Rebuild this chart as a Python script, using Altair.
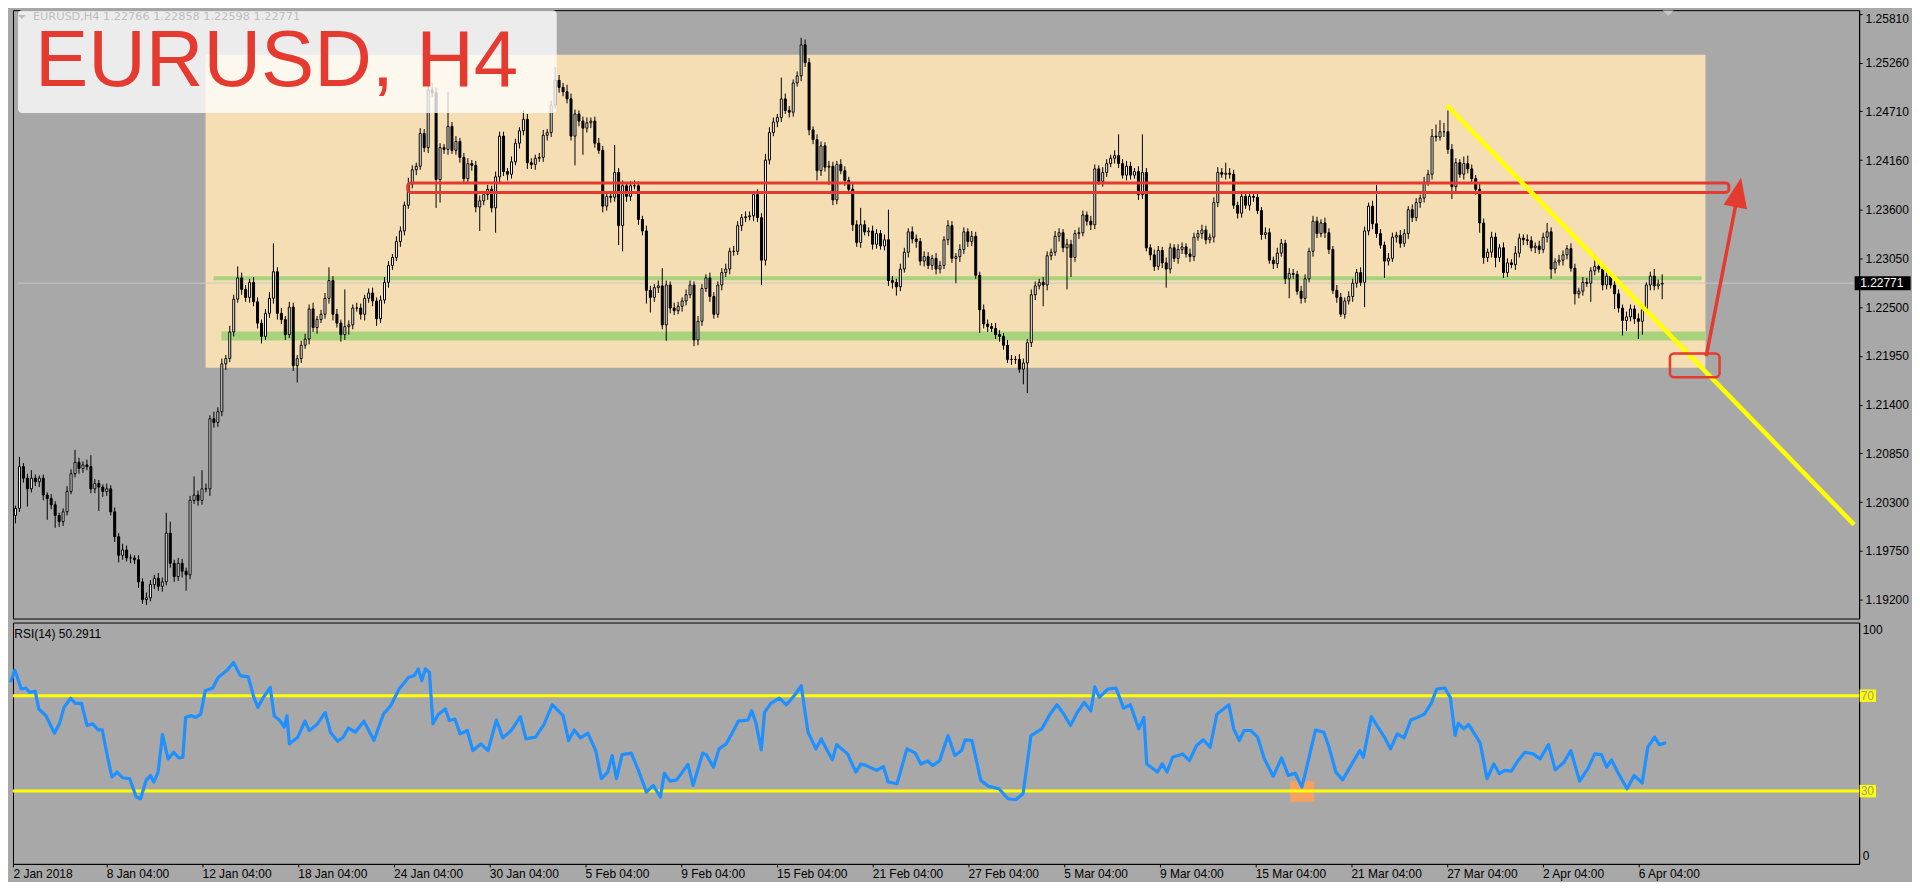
import altair as alt
import pandas as pd

# ---------------- data ----------------
# closes in 1/10000 above 1.0000 (2023 -> 1.2023); open of a bar = previous close
FIRST_OPEN = 2015
CLOSE_PIPS = [int(v) for v in """
2023 2070 2057 2045 2057 2053 2057 2038 2034 2027 2015 2008 2019 2042 2062 2075 2068 2072 2070 2045
2051 2047 2042 2045 2019 1991 1970 1976 1967 1967 1965 1940 1920 1922 1937 1944 1935 1940 1995 1961
1946 1961 1952 1948 2032 2038 2032 2045 2045 2124 2120 2132 2186 2192 2222 2259 2283 2270 2261 2278
2256 2232 2217 2243 2260 2290 2243 2236 2219 2250 2184 2192 2207 2214 2248 2227 2236 2242 2260 2280
2242 2232 2219 2228 2230 2249 2249 2242 2260 2266 2257 2237 2258 2278 2297 2306 2324 2336 2365 2389
2405 2409 2446 2430 2495 2492 2394 2430 2428 2454 2427 2437 2419 2395 2412 2410 2363 2370 2377 2383
2362 2397 2443 2403 2400 2414 2435 2449 2462 2413 2411 2418 2419 2444 2447 2478 2506 2498 2493 2485
2443 2468 2460 2452 2458 2460 2435 2427 2364 2375 2374 2402 2342 2387 2375 2387 2387 2349 2336 2269
2261 2272 2274 2230 2275 2249 2246 2251 2257 2264 2275 2213 2234 2271 2283 2262 2242 2275 2289 2293
2313 2313 2342 2351 2352 2353 2377 2351 2303 2416 2447 2459 2464 2485 2472 2470 2503 2511 2546 2526
2450 2439 2404 2432 2408 2409 2371 2411 2404 2393 2383 2343 2323 2343 2335 2336 2321 2333 2319 2326
2280 2278 2273 2293 2312 2335 2327 2324 2302 2307 2297 2305 2293 2297 2326 2342 2305 2307 2315 2335
2324 2330 2286 2247 2231 2228 2226 2219 2217 2207 2191 2191 2191 2180 2187 2210 2264 2274 2278 2275
2308 2312 2330 2334 2317 2321 2306 2333 2334 2354 2347 2343 2406 2392 2402 2412 2418 2421 2412 2399
2409 2399 2403 2377 2402 2317 2309 2296 2314 2300 2293 2317 2305 2315 2318 2310 2307 2329 2333 2337
2326 2329 2368 2402 2400 2401 2400 2365 2356 2375 2365 2375 2374 2359 2332 2334 2303 2299 2311 2322
2282 2288 2287 2268 2260 2282 2313 2347 2333 2345 2334 2315 2269 2261 2242 2257 2262 2277 2289 2278
2336 2364 2344 2333 2320 2302 2305 2329 2331 2322 2333 2360 2351 2368 2373 2391 2400 2443 2442 2448
2448 2428 2386 2413 2400 2412 2406 2395 2383 2345 2306 2312 2329 2306 2317 2289 2300 2298 2311 2328
2326 2325 2317 2319 2315 2329 2335 2293 2301 2303 2309 2316 2294 2265 2268 2278 2277 2291 2296 2293
2275 2285 2275 2265 2249 2235 2239 2248 2237 2234 2247 2275 2285 2274 2276 2277
""".split()]

# upper / lower shadow lengths in pips
UPPER_WICK = [int(v) for v in """
3 11 4 5 9 4 3 4 3 5 4 3 4 6 5 14 5 4 6 13
5 4 3 6 4 5 4 7 5 4 3 5 4 6 5 4 6 5 23 13
4 6 5 4 5 21 5 21 6 4 8 5 6 4 7 5 13 6 5 4
6 5 4 5 7 32 5 6 4 6 5 4 5 6 5 7 4 5 6 15
5 6 4 42 5 4 6 5 4 5 6 4 5 6 5 4 6 5 4 7
5 4 6 5 5 8 6 5 4 39 5 6 4 5 6 4 5 6 4 5
4 6 5 5 4 6 5 4 10 6 5 4 5 6 4 5 15 6 5 8
6 5 4 5 6 4 5 6 5 4 6 31 5 6 4 5 6 5 4 6
5 4 6 20 5 4 6 5 4 6 5 4 6 5 4 6 5 4 5 6
4 6 5 4 6 5 4 6 5 7 6 5 4 24 6 5 4 5 8 6
5 4 6 5 4 6 5 4 6 5 4 6 5 19 5 4 6 5 4 6
34 5 4 6 5 4 6 5 4 6 5 4 6 5 4 6 5 4 6 5
4 6 5 4 6 5 4 6 5 4 6 5 4 6 5 4 6 5 4 6
5 4 6 5 4 6 5 4 6 5 4 6 5 4 6 5 4 6 24 5
6 5 4 6 43 5 4 6 5 4 6 5 4 6 5 4 6 5 4 6
5 4 6 6 5 12 6 5 4 6 5 4 6 5 4 6 5 4 6 5
4 6 5 4 6 5 4 6 5 4 6 5 4 6 5 4 6 5 4 6
5 4 6 44 5 4 6 5 4 6 5 4 6 5 4 6 5 8 13 13
10 24 6 5 4 8 9 5 4 6 5 4 6 5 4 6 5 4 8 5
4 6 5 4 6 5 10 5 4 6 5 4 6 5 4 6 5 4 13 5
6 5 4 6 5 4 6 5 4 6 5 3 5 8 5 10
""".split()]

LOWER_WICK = [int(v) for v in """
9 4 5 20 4 5 6 6 24 5 14 6 5 4 3 4 6 5 4 5
5 27 6 5 4 6 8 5 4 6 5 7 5 6 4 5 5 6 4 5
6 5 7 18 5 4 6 5 4 8 6 5 5 7 4 5 4 6 5 6
5 6 8 4 5 6 7 5 6 4 6 19 5 4 6 5 7 4 5 6
7 5 8 6 9 5 4 6 7 5 6 8 5 4 6 5 4 6 5 4
5 6 4 5 6 5 32 26 5 6 4 5 6 5 4 6 6 27 5 6
5 28 6 5 7 5 4 6 5 7 5 6 4 5 6 5 4 6 5 5
5 33 6 30 5 6 5 4 7 5 6 5 22 29 6 5 4 6 5 15
17 5 6 5 18 6 5 4 6 5 4 7 6 5 4 6 5 4 6 5
6 5 4 6 5 4 6 5 28 6 5 4 6 5 4 6 5 4 6 5
6 5 11 6 5 20 6 5 4 6 5 7 5 6 4 5 6 5 4 5
6 7 10 5 4 6 5 7 5 6 4 5 6 5 4 6 5 28 6 5
6 5 4 26 5 6 4 5 6 5 4 6 5 4 17 34 5 6 4 24
6 5 4 6 5 47 22 5 6 4 5 6 5 4 6 5 4 6 5 4
6 5 4 6 5 4 6 5 4 6 21 5 4 6 5 4 6 5 4 6
5 4 6 5 4 6 5 4 6 5 4 6 5 4 6 5 4 6 5 4
6 22 5 4 6 5 4 6 5 4 6 5 4 6 3 5 4 6 5 4
28 5 6 5 4 19 5 4 6 5 4 6 5 4 6 5 4 6 5 4
6 5 14 5 4 6 5 4 6 11 7 5 6 11 5 6 5 4 6 5
6 5 4 6 5 4 6 11 5 4 6 5 4 12 5 5 4 21 5 4
6 5 4 17 5 17 12 5 6 20 15 4 6 5 4 17
""".split()]

# RSI(14) line, read as (bar, value) points
RSI_BAR = [0, 1.1, 2.7, 3.8, 4.8, 6.2, 7.1, 8.9, 11, 12.3, 13.4, 15.1, 16.2, 17.8, 19.2, 20.6, 22, 23, 24, 25.4,
           26.7, 28.1, 29.9, 31.5, 32.6, 34, 35.1, 35.9, 37, 38.1, 39.5, 40.9, 42.2, 43.2, 43.9, 45.3, 46.4, 47.7, 48.8, 50.7,
           52.1, 54.2, 55.9, 57.6, 59.6, 61, 62, 63.4, 65.1, 66.1, 67.5, 68.6, 69.3, 69.9, 72, 73.8, 74.9, 76.8, 78.9, 80.2,
           82, 83.4, 84.7, 86.4, 88.6, 91.1, 93.5, 95.3, 97.4, 99.8, 101.2, 102.2, 103.1, 104, 105, 105.9, 107.2, 109, 110, 111.4,
           112.7, 114.5, 115.9, 117.9, 119.7, 121.8, 123.4, 125.5, 127.8, 129.2, 131.6, 133.7, 135.8, 138.5, 139.9, 141.3, 142.9, 144.7, 146.7, 148.1,
           149.7, 150.8, 151.9, 153.3, 155.6, 157.4, 159.4, 161.1, 162.9, 163.9, 165.3, 167, 169.8, 171.1, 173.5, 174.4, 176.2, 177.6, 179.4, 180.7,
           182.4, 184.9, 185.8, 186.8, 188.2, 189, 190.6, 192.7, 194.5, 196.8, 198.2, 199.9, 201.9, 203.2, 204.3, 206, 207.1, 209.8, 211.9, 213.2,
           214.5, 217.1, 218.8, 220, 222.2, 224.7, 226.8, 228.2, 229.9, 231.2, 232.9, 235, 236.7, 238.4, 239.3, 241, 243.2, 245.2, 247.8, 250,
           252, 253.8, 255.8, 258.5, 260.6, 262.3, 264, 265.7, 267.4, 269.1, 270.8, 271.8, 272.9, 275.1, 277.1, 279, 280.7, 282.8, 284.1, 284.8,
           287.5, 288.7, 289.9, 291.3, 293.8, 295.5, 297.3, 299, 300.7, 302.4, 304.1, 305.4, 306.6, 308, 309.2, 310.9, 312.6, 314.3, 316.5, 318.6,
           320.3, 322, 323.7, 325.7, 327.1, 329.2, 330.5, 332.2, 333.9, 336, 338.2, 339.1, 341.1, 342.8, 344.5, 345.9, 347.6, 349.3, 351, 352.7,
           354.4, 356.1, 357.5, 359.5, 360.9, 362.1, 362.9, 364.3, 365.5, 366.7, 368.4, 370.1, 371.8, 373.2, 374.5, 376.2, 377.9, 379.6, 381.7, 383.4,
           385.5, 387.2, 389.4, 391.1, 393.3, 395.4, 397.1, 398.8, 400.1, 401.3, 403, 405.2, 407, 409, 410.4, 412.1, 413.3, 415]
RSI_VALUE = [75.6, 80.7, 72.8, 73.2, 71.4, 71.8, 64.4, 61.6, 54.3, 58.4, 65.1, 68.9, 66.8, 66.8, 57.5, 58.2, 55.7, 55.7, 47.0, 35.9,
             38.0, 35.6, 35.2, 27.5, 26.8, 34.5, 36.6, 33.8, 38.0, 53.7, 43.5, 46.3, 43.9, 44.2, 60.9, 61.6, 60.9, 62.3, 72.1, 73.2,
             77.7, 80.5, 83.9, 78.4, 77.9, 69.3, 65.1, 69.3, 73.5, 61.6, 59.6, 56.8, 61.6, 49.8, 52.6, 59.3, 55.4, 57.9, 63.0, 54.7,
             50.9, 52.6, 56.5, 54.7, 59.3, 51.2, 62.3, 65.8, 72.8, 77.7, 78.4, 81.2, 76.3, 81.2, 79.8, 58.2, 62.1, 64.4, 59.6, 60.2,
             54.0, 55.4, 47.0, 49.8, 47.0, 59.8, 52.3, 55.4, 61.2, 51.9, 52.6, 57.9, 66.2, 61.6, 51.2, 55.6, 52.3, 54.3, 47.0, 35.2,
             38.0, 44.9, 35.2, 45.3, 45.9, 38.7, 29.6, 32.4, 27.5, 37.5, 34.2, 34.7, 41.2, 32.4, 45.9, 45.3, 40.0, 47.7, 49.8, 53.7,
             59.3, 59.8, 63.7, 58.9, 47.3, 63.0, 66.8, 69.0, 66.2, 70.7, 74.2, 54.7, 47.7, 51.9, 48.4, 43.1, 49.5, 45.6, 38.0, 41.4,
             40.7, 38.7, 40.3, 33.8, 33.1, 47.7, 45.9, 41.4, 42.6, 40.7, 42.8, 53.3, 44.9, 47.0, 51.5, 51.2, 34.5, 32.0, 31.0, 26.8,
             26.4, 28.9, 53.3, 56.1, 62.3, 66.2, 62.3, 57.5, 63.0, 67.2, 63.7, 73.7, 69.3, 72.8, 73.2, 64.8, 66.2, 56.1, 60.9, 41.4,
             38.0, 41.4, 38.0, 44.2, 45.6, 42.8, 49.1, 51.5, 48.4, 62.3, 64.4, 66.2, 56.1, 51.2, 55.4, 55.4, 52.6, 43.5, 36.2, 43.9,
             36.6, 37.5, 31.7, 45.6, 55.6, 54.7, 48.4, 38.0, 34.7, 40.7, 47.0, 44.2, 61.2, 56.7, 52.3, 47.7, 54.0, 52.3, 59.8, 60.9,
             62.3, 66.8, 72.8, 73.2, 69.3, 53.3, 58.4, 56.1, 57.9, 54.7, 50.1, 35.2, 41.4, 37.3, 38.7, 38.4, 42.8, 46.3, 45.6, 43.5,
             49.5, 38.9, 42.1, 47.0, 34.2, 39.4, 45.6, 45.3, 40.0, 43.1, 37.5, 31.0, 36.6, 33.4, 48.4, 52.6, 49.5, 50.3]

PRICE_TICKS = [1.25810, 1.25260, 1.24710, 1.24160, 1.23600, 1.23050, 1.22500,
               1.21950, 1.21400, 1.20850, 1.20300, 1.19750, 1.19200]
TIME_LABELS = ["2 Jan 2018", "8 Jan 04:00", "12 Jan 04:00", "18 Jan 04:00", "24 Jan 04:00",
               "30 Jan 04:00", "5 Feb 04:00", "9 Feb 04:00", "15 Feb 04:00", "21 Feb 04:00",
               "27 Feb 04:00", "5 Mar 04:00", "9 Mar 04:00", "15 Mar 04:00", "21 Mar 04:00",
               "27 Mar 04:00", "2 Apr 04:00", "6 Apr 04:00"]
BARS_PER_LABEL = 24
RSI_LEVELS = [70, 30]
RSI_TICKS = [0, 100]
LAST_PRICE = 1.22771
HEADER_TEXT = "EURUSD,H4  1.22766 1.22858 1.22598 1.22771"
TITLE_TEXT = "EURUSD, H4"
RSI_TEXT = "RSI(14) 50.2911"

# drawn objects, in (bar, price) / (bar, rsi) coordinates
ZONE = dict(x1=47.9, x2=425.9, y1=1.21815, y2=1.25349)
GREEN_THIN = dict(x1=49.9, x2=424.9, y=1.22827)
GREEN_THICK = dict(x1=51.9, x2=425.9, y=1.22175)
RED_BOX = dict(x1=98.9, x2=431.8, y1=1.23795, y2=1.23901)
TREND = dict(x1=360.7, x2=463.375, y1=1.24779, y2=1.20046)
SMALL_BOX = dict(x1=416.95, x2=429.45, y1=1.21710, y2=1.21977)
ARROW = dict(x1=426.1, y1=1.21946, x2=434.15, y2=1.23795)
ORANGE = dict(x1=320.8, x2=326.8, y1=25.5, y2=34.2)

X_DOMAIN = [0.625, 463.375]
Y_DOMAIN = [1.189862, 1.258516]
RSI_DOMAIN = [-0.5, 100.65]

RED = "#e53a30"
FONT = "Liberation Sans"

# ---------------- frames ----------------
opens = [FIRST_OPEN] + CLOSE_PIPS[:-1]
rows = []
for i, (o, c, uw, lw) in enumerate(zip(opens, CLOSE_PIPS, UPPER_WICK, LOWER_WICK)):
    rows.append(dict(i=i, o=1 + o / 1e4, c=1 + c / 1e4,
                     h=1 + (max(o, c) + uw) / 1e4, l=1 + (min(o, c) - lw) / 1e4,
                     bull=bool(c >= o)))
candles = pd.DataFrame(rows)
rsi_df = pd.DataFrame({"bar": RSI_BAR, "rsi": RSI_VALUE})

W, H_MAIN, H_RSI = 1851, 610, 242
xs = alt.Scale(domain=X_DOMAIN, nice=False, zero=False)
ys = alt.Scale(domain=Y_DOMAIN, nice=False, zero=False)
rs = alt.Scale(domain=RSI_DOMAIN, nice=False, zero=False)

price_axis = alt.Axis(orient="right", values=PRICE_TICKS, format=".5f", grid=False, title=None,
                      tickSize=3, tickColor="black", domainColor="black", labelColor="black",
                      labelFont=FONT, labelFontSize=12, labelPadding=3, labelOverlap=False,
                      labelFlush=False,
                      labelBaseline=alt.condition("datum.value > 1.258", alt.value("top"), alt.value("middle")))


def one(d):
    return pd.DataFrame([d])


def X(f):
    return alt.X(f, type="quantitative", scale=xs, axis=None)


def Y(f):
    return alt.Y(f, type="quantitative", scale=ys, axis=price_axis)


zone = alt.Chart(one(ZONE)).mark_rect(color="#f5deb3").encode(
    x=X("x1"), x2="x2", y=Y("y1"), y2="y2")
g_thin = alt.Chart(one(GREEN_THIN)).mark_rule(color="#a8d27c", strokeWidth=4).encode(
    x=X("x1"), x2="x2", y=Y("y"))
g_thick = alt.Chart(one(GREEN_THICK)).mark_rule(color="#a8d27c", strokeWidth=9).encode(
    x=X("x1"), x2="x2", y=Y("y"))
last_line = alt.Chart(one(dict(x1=X_DOMAIN[0], x2=X_DOMAIN[1], y=LAST_PRICE))).mark_rule(
    color="#c8c8c8", strokeWidth=1).encode(x=X("x1"), x2="x2", y=Y("y"))
wicks = alt.Chart(candles).mark_rule(color="black", strokeWidth=1).encode(
    x=X("i"), y=Y("l"), y2="h")
bodies = alt.Chart(candles).mark_bar(size=2, stroke="black", strokeWidth=1).encode(
    x=X("i"), y=Y("o"), y2="c",
    color=alt.condition("datum.bull", alt.value("white"), alt.value("black")))
red_box = alt.Chart(one(RED_BOX)).mark_rect(fillOpacity=0, stroke=RED, strokeWidth=3, cornerRadius=3).encode(
    x=X("x1"), x2="x2", y=Y("y1"), y2="y2")
trend = alt.Chart(one(TREND)).mark_rule(color="#ffff00", strokeWidth=4.5).encode(
    x=X("x1"), x2="x2", y=Y("y1"), y2="y2")
small_box = alt.Chart(one(SMALL_BOX)).mark_rect(fillOpacity=0, stroke=RED, strokeWidth=2.5, cornerRadius=4).encode(
    x=X("x1"), x2="x2", y=Y("y1"), y2="y2")
shaft = alt.Chart(one(ARROW)).mark_rule(color=RED, strokeWidth=3.5).encode(
    x=X("x1"), x2="x2", y=Y("y1"), y2="y2")
head = alt.Chart(one(ARROW)).mark_point(shape="M0,-1L0.8,1L-0.8,1Z", filled=True, size=900,
                                        angle=11, color=RED, opacity=1).encode(x=X("x2"), y=Y("y2"))
title_box = alt.Chart(one(dict(x1=X_DOMAIN[0], x2=136.4, y1=1.24692, y2=Y_DOMAIN[1]))).mark_rect(
    color="white", opacity=0.78, cornerRadius=4).encode(x=X("x1"), x2="x2", y=Y("y1"), y2="y2")
title = alt.Chart(one(dict(x=4.9, y=1.24993, t=TITLE_TEXT))).mark_text(
    align="left", baseline="alphabetic", font=FONT, fontSize=80, color=RED).encode(
    x=X("x"), y=Y("y"), text="t:N")
header = alt.Chart(one(dict(x=4.4, y=1.25773, t=HEADER_TEXT))).mark_text(
    align="left", baseline="middle", font="DejaVu Sans", fontSize=11.3, color="#bdbdbd").encode(
    x=X("x"), y=Y("y"), text="t:N")
header_tri = alt.Chart(one(dict(x=1.6, y=1.25773))).mark_point(
    shape="M-1,-0.5L1,-0.5L0,0.5Z", filled=True, size=64, color="#bdbdbd", opacity=1).encode(
    x=X("x"), y=Y("y"))
shift_tri = alt.Chart(one(dict(x=416.5, y=1.25818))).mark_point(
    shape="M-1,-0.5L1,-0.5L0,0.5Z", filled=True, size=121, color="#c8c8c8", opacity=1).encode(
    x=X("x"), y=Y("y"))
price_box = alt.Chart(one(dict(x1=463.5, x2=477.6, y1=LAST_PRICE - 0.00079, y2=LAST_PRICE + 0.00079))).mark_rect(
    color="black").encode(x=X("x1"), x2="x2", y=Y("y1"), y2="y2")
price_txt = alt.Chart(one(dict(x=464.9, y=LAST_PRICE, t=f"{LAST_PRICE:.5f}"))).mark_text(
    align="left", baseline="middle", font=FONT, fontSize=12, color="white").encode(
    x=X("x"), y=Y("y"), text="t:N")

main = alt.layer(zone, g_thin, g_thick, last_line, wicks, bodies, red_box, trend, small_box,
                 shaft, head, title_box, title, header_tri, header, shift_tri, price_box, price_txt
                 ).properties(width=W, height=H_MAIN)

# ---------------- RSI panel ----------------
label_js = "[" + ",".join(f"'{t}'" for t in TIME_LABELS) + f"][round(datum.value/{BARS_PER_LABEL})]"
tick_bars = [max(k * BARS_PER_LABEL, X_DOMAIN[0]) for k in range(len(TIME_LABELS))]
time_axis = alt.Axis(values=tick_bars, labelExpr=label_js,
                     labelAlign="left", labelFlush=False, labelOverlap=False, grid=False, title=None,
                     tickSize=3, tickColor="black", domainColor="black", labelColor="black",
                     labelFont=FONT, labelFontSize=12, labelPadding=2)
rsi_axis = alt.Axis(orient="right", values=RSI_TICKS, grid=False, title=None, ticks=False,
                    labelFlush=False, domainColor="black", labelColor="black",
                    labelFont=FONT, labelFontSize=12, labelPadding=3,
                    labelBaseline=alt.condition("datum.value > 50", alt.value("top"), alt.value("bottom")))


def RX(f):
    return alt.X(f, type="quantitative", scale=xs, axis=time_axis)


def RY(f):
    return alt.Y(f, type="quantitative", scale=rs, axis=rsi_axis)


orange = alt.Chart(one(ORANGE)).mark_rect(color="#f4a261").encode(
    x=RX("x1"), x2="x2", y=RY("y1"), y2="y2")
lv_df = pd.DataFrame({"lv": RSI_LEVELS, "x1": X_DOMAIN[0], "x2": X_DOMAIN[1],
                      "b1": 463.5, "b2": 467.6, "lt": [str(v) for v in RSI_LEVELS]})
levels = alt.Chart(lv_df).mark_rule(color="#ffff00", strokeWidth=3).encode(
    x=RX("x1"), x2="x2", y=RY("lv"))
lv_box = alt.Chart(lv_df).transform_calculate(lo="datum.lv - 2.6", hi="datum.lv + 2.6").mark_rect(
    color="#ffff00").encode(x=RX("b1"), x2="b2", y=RY("lo"), y2="hi")
lv_txt = alt.Chart(lv_df).mark_text(align="left", baseline="middle", font=FONT, fontSize=12,
                                    color="#9c9c9c", dx=1).encode(x=RX("b1"), y=RY("lv"), text="lt:N")
rsi_line = alt.Chart(rsi_df).mark_line(color="#1e90ff", strokeWidth=3.2, strokeJoin="round").encode(
    x=RX("bar"), y=RY("rsi"))
rsi_title = alt.Chart(one(dict(x=0.95, y=95.8, t=RSI_TEXT))).mark_text(
    align="left", baseline="middle", font=FONT, fontSize=12, color="black").encode(
    x=RX("x"), y=RY("y"), text="t:N")

rsi = alt.layer(orange, levels, rsi_line, lv_box, lv_txt, rsi_title).properties(width=W, height=H_RSI)

chart = alt.vconcat(main, rsi, spacing=2).properties(padding=0).configure(
    background="#a8a8a8").configure_view(stroke="black", strokeWidth=1)

chart.save("out.html", embed_options={"renderer": "svg", "actions": False})
